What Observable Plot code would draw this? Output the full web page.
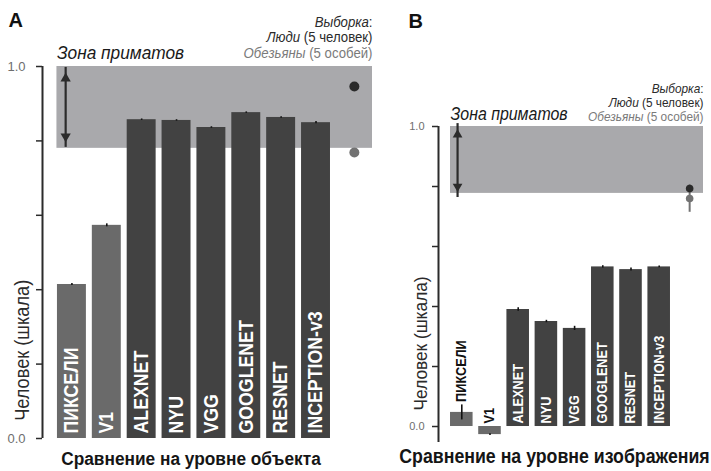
<!DOCTYPE html>
<html>
<head>
<meta charset="utf-8">
<script src="https://cdn.jsdelivr.net/npm/d3@7"></script>
<script src="https://cdn.jsdelivr.net/npm/@observablehq/plot@0.6"></script>
<style>
  html, body { margin: 0; padding: 0; background: #fff; }
  #wrap { display: flex; width: 711px; height: 471px; }
  svg text { white-space: pre; }
</style>
</head>
<body>
<div id="wrap"></div>
<script>
// ---------- data ----------
const models = ["ПИКСЕЛИ", "V1", "ALEXNET", "NYU", "VGG", "GOOGLENET", "RESNET", "INCEPTION-v3"];
const modelKind = ["base", "base", "dcnn", "dcnn", "dcnn", "dcnn", "dcnn", "dcnn"];
// A: object-level consistency with humans (normalised)
const objectValues = [0.414, 0.573, 0.857, 0.855, 0.836, 0.876, 0.863, 0.849];
const objectErrors = [0.003, 0.004, 0.002, 0.002, 0.002, 0.002, 0.002, 0.003];
// B: image-level consistency with humans (normalised)
const imageValues = [0.047, -0.027, 0.390, 0.350, 0.327, 0.532, 0.523, 0.532];
const imageErrors = [0.025, 0.003, 0.006, 0.004, 0.007, 0.004, 0.005, 0.003];
// primate zone lower bound and primate pool points
const objectZoneLow = 0.78;
const imageZoneLow = 0.777;
const primateWho = ["human", "monkey"];
const objectPrimate = [0.946, 0.769];
const objectPrimateErr = [0, 0];
const imagePrimate = [0.793, 0.760];
const imagePrimateErr = [0, 0.046];
// texts
const yTicks = [0, 0.2, 0.4, 0.6, 0.8, 1.0];
const yLabel = "Человек (шкала)";
const zoneLabel = "Зона приматов";
const legendItalic = ["Выборка", "Люди", "Обезьяны"];
const legendPlain = [":", " (5 человек)", " (5 особей)"];
const titleA = "Сравнение на уровне объекта";
const titleB = "Сравнение на уровне изображения";

// ---------- style ----------
const NARROW = "'Liberation Sans Narrow', 'Arial Narrow', 'Liberation Sans', sans-serif";
const SANS = "'Liberation Sans', Arial, sans-serif";
const CONDENSE = 0.91;
const ZONE = "#a9a9ac";
const BASE = "#6a6a6a";
const MODEL = "#424242";
const HUMAN = "#2a2a2a";
const MONKEY = "#727272";
const INK = "#2b2b2b";
const legendColor = [INK, INK, "#7a7a7a"];

function panel(o) {
  const data = models.map((name, i) => ({
    name, i, value: o.values[i], err: o.errors[i], kind: modelKind[i],
    outside: o.values[i] < 0.15
  }));
  const primate = primateWho.map((who, k) => ({ who, value: o.primate[k], err: o.primateErr[k] }));
  const [x0] = o.xDomain;
  const hw = o.hw;
  const marks = [
    // primate zone
    Plot.rect([o.zoneLow], { x1: o.zoneX[0], x2: o.zoneX[1], y1: d => d, y2: 1, fill: ZONE }),
    // double arrow in the zone
    Plot.ruleX([o.arrow], { x: o.arrowX, y1: d => d[0], y2: d => d[1], stroke: INK, strokeWidth: 2.2, insetTop: 5, insetBottom: 5 }),
    Plot.dot([o.arrow[1]], { x: o.arrowX, y: d => d, symbol: "triangle", r: o.headR, fill: INK, stroke: "none", dy: o.headDy }),
    Plot.dot([o.arrow[0]], { x: o.arrowX, y: d => d, symbol: "triangle", r: o.headR, fill: INK, stroke: "none", rotate: 180, dy: -o.headDy }),
    // bars
    Plot.rect(data, { x1: d => d.i - hw, x2: d => d.i + hw, y1: 0, y2: "value", fill: d => d.kind === "base" ? BASE : MODEL }),
    Plot.ruleX(data, { x: "i", y1: d => d.value - d.err, y2: d => d.value + d.err, stroke: "#111", strokeWidth: 1.6 }),
    // bar labels
    Plot.text(data, {
      x: "i", y: d => d.outside ? Math.max(0, d.value + d.err) : 0, text: "name", rotate: -90,
      textAnchor: "start", dy: o.labelDy, fill: d => d.outside ? "#111" : "#ffffff",
      fontWeight: "bold", fontSize: o.labelSize, fontFamily: NARROW
    }),
    // primate points
    Plot.ruleX(primate.filter(d => d.err > 0), { x: o.dotX, y1: d => d.value - d.err, y2: d => d.value + d.err, stroke: MONKEY, strokeWidth: 2 }),
    Plot.dot(primate.slice().reverse(), { x: o.dotX, y: "value", r: o.dotR, fill: d => d.who === "human" ? HUMAN : MONKEY, stroke: "none" }),
    // y axis
    Plot.ruleX([x0], { stroke: INK, strokeWidth: 2 }),
    Plot.axisY({
      ticks: yTicks, tickSize: 6, tickPadding: o.tickPad, label: null,
      tickFormat: d => (d === 0 || d === 1) ? d.toFixed(1) : "",
      stroke: INK, strokeWidth: 1.5, fill: "#6e6e6e", fontSize: o.tickSize, fontFamily: SANS
    }),
    Plot.text([yLabel], { x: x0, y: o.yLabelAt, text: d => d, rotate: -90, dx: o.yLabelDx, fontSize: o.yLabelSize, fill: INK, fontFamily: NARROW }),
    // zone label
    Plot.text([zoneLabel], { x: o.zoneX[0], y: 1, text: d => d, textAnchor: "start", lineAnchor: "bottom", dy: o.zoneDy, fontSize: o.zoneSize, fontStyle: "italic", fill: "#1a1a1a", fontFamily: NARROW }),
    // x title
    Plot.text([o.title], { x: 3.5, y: o.yDomain[0], text: d => d, dx: o.titleDx, dy: o.titleDy, lineAnchor: "bottom", fontSize: o.titleSize, fontWeight: "bold", fill: "#151515", fontFamily: NARROW }),
    // panel letter
    Plot.text([o.letter], { frameAnchor: "top-left", text: d => d, dx: o.letterDx, dy: o.letterDy, textAnchor: "start", lineAnchor: "bottom", fontSize: 20, fontWeight: "bold", fill: "#111", fontFamily: SANS }),
    // sample legend
    ...legendItalic.map((it, k) => Plot.text([it + legendPlain[k]], {
      frameAnchor: "top-right", text: d => d, dy: o.legendDy[k], textAnchor: "end", lineAnchor: "bottom",
      fontSize: o.legendSize, fill: legendColor[k], fontFamily: NARROW
    }))
  ];
  const svg = Plot.plot({
    width: o.width, height: 471,
    marginTop: o.margin[0], marginRight: o.margin[1], marginBottom: o.margin[2], marginLeft: o.margin[3],
    x: { domain: o.xDomain, axis: null },
    y: { domain: o.yDomain },
    color: { type: "identity" },
    style: { background: "#fff", overflow: "visible" },
    marks
  });
  // mixed italic / upright legend lines
  d3.select(svg).selectAll("text").each(function () {
    const t = this.textContent;
    const k = legendItalic.findIndex((it, j) => it + legendPlain[j] === t);
    if (k < 0) return;
    const sel = d3.select(this);
    sel.text(null);
    sel.append("tspan").attr("font-style", "italic").text(legendItalic[k]);
    sel.append("tspan").text(legendPlain[k]);
  });
  // condensed look: narrow the glyphs of the narrow-font texts along their writing direction
  d3.select(svg).selectAll("text").each(function () {
    const g = this.closest("[font-family]");
    if (!g || !/Narrow/.test(g.getAttribute("font-family"))) return;
    const tr = this.getAttribute("transform");
    if (tr) {
      this.setAttribute("transform", tr + ` scale(${CONDENSE},1)`);
    } else {
      const x = +(this.getAttribute("x") || 0), y = +(this.getAttribute("y") || 0);
      this.removeAttribute("x"); this.removeAttribute("y");
      this.setAttribute("transform", `translate(${x},${y}) scale(${CONDENSE},1)`);
    }
  });
  return svg;
}

const svgA = panel({
  width: 390, margin: [66, 18, 33, 42],
  xDomain: [-0.844, 8.62], yDomain: [0, 1], hw: 0.415,
  values: objectValues, errors: objectErrors,
  primate: objectPrimate, primateErr: objectPrimateErr,
  zoneLow: objectZoneLow, zoneX: [-0.43, 8.62],
  arrow: [0.796, 0.984], arrowX: -0.18, headR: 3.8, headDy: 6,
  dotX: 8.1, dotR: 5,
  labelSize: 19.5, labelDy: -5,
  tickPad: 11, tickSize: 13,
  yLabelAt: 0.237, yLabelDx: -20, yLabelSize: 20,
  zoneDy: -8, zoneSize: 19,
  title: titleA, titleDx: -3, titleDy: 26, titleSize: 19,
  letter: "A", letterDx: -34, letterDy: -40,
  legendDy: [-40, -25, -9], legendSize: 14.5
});

const svgB = panel({
  width: 321, margin: [126, 8, 29, 48],
  xDomain: [-0.826, 8.571], yDomain: [-0.0533, 1], hw: 0.4,
  values: imageValues, errors: imageErrors,
  primate: imagePrimate, primateErr: imagePrimateErr,
  zoneLow: imageZoneLow, zoneX: [-0.40, 8.571],
  arrow: [0.78, 0.993], arrowX: -0.15, headR: 3.6, headDy: 6,
  dotX: 8.08, dotR: 3.8,
  labelSize: 14, labelDy: -3,
  tickPad: 8, tickSize: 11,
  yLabelAt: 0.277, yLabelDx: -18, yLabelSize: 19,
  zoneDy: -7, zoneSize: 17.5,
  title: titleB, titleDx: -6, titleDy: 20, titleSize: 19.5,
  letter: "B", letterDx: -30, letterDy: -99,
  legendDy: [-34, -20, -6], legendSize: 13
});

const wrap = document.getElementById("wrap");
wrap.appendChild(svgA);
wrap.appendChild(svgB);
</script>
</body>
</html>
